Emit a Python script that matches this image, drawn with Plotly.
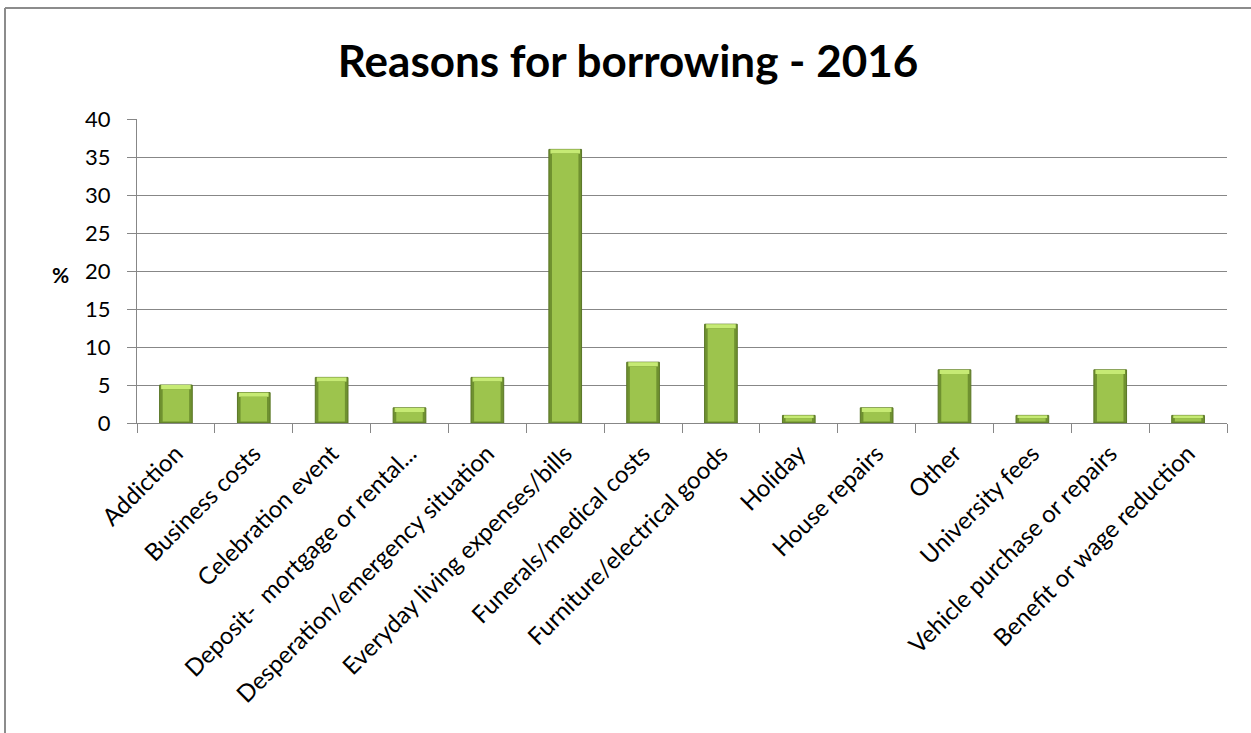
import plotly.graph_objects as go

categories = [
    "Addiction", "Business costs", "Celebration event",
    "Deposit- \u00a0mortgage or rental...", "Desperation/emergency situation",
    "Everyday living expenses/bills", "Funerals/medical costs",
    "Furniture/electrical goods", "Holiday", "House repairs", "Other",
    "University fees", "Vehicle purchase or repairs", "Benefit or wage reduction",
]
values = [5, 4, 6, 2, 6, 36, 8, 13, 1, 2, 7, 1, 7, 1]
y_ticks = [0, 5, 10, 15, 20, 25, 30, 35, 40]

title_text = "Reasons for borrowing - 2016"
y_label = "%"

FONT = "Lato"
GRID = "#878787"

fig = go.Figure()

# outer dark body with outline
fig.add_trace(go.Bar(
    x=categories, y=values, width=0.42,
    marker=dict(color="#6F9130", line=dict(color="#5A7626", width=1)),
    hoverinfo="skip", showlegend=False,
))
# top bevel highlight
cap = [min(0.55, v * 0.35) for v in values]
fig.add_trace(go.Bar(
    x=categories, y=cap, base=[v - c for v, c in zip(values, cap)], width=0.38,
    marker=dict(color="#C6EA74", line=dict(width=0)),
    hoverinfo="skip", showlegend=False,
))
# inner light body
fig.add_trace(go.Bar(
    x=categories, y=[v - c - 0.2 for v, c in zip(values, cap)], base=0.2, width=0.34,
    marker=dict(color="#9DC44D", line=dict(width=0)),
    hoverinfo="skip", showlegend=False,
))

fig.update_layout(
    width=1251, height=733,
    margin=dict(l=137, r=24, t=119, b=310),
    paper_bgcolor="white", plot_bgcolor="white",
    barmode="overlay",
    font=dict(family=FONT, size=22, color="#000000"),
    title=dict(text=title_text, x=0.502, xanchor="center", xref="container",
               y=1 - 62 / 733, yanchor="middle", yref="container",
               font=dict(family=FONT, size=44, color="#000000", weight="bold")),
    xaxis=dict(
        type="category", showline=True, linecolor=GRID, linewidth=1,
        ticks="outside", tickson="boundaries", ticklen=9, tickcolor=GRID,
        tickangle=-45, tickfont=dict(family=FONT, size=24), ticklabelstandoff=6,
        showgrid=False, range=[-0.5, len(categories) - 0.5],
    ),
    yaxis=dict(
        range=[0, 40], tickvals=y_ticks, showgrid=True, gridcolor=GRID, gridwidth=1,
        showline=True, linecolor=GRID, linewidth=1, zeroline=False,
        ticks="outside", ticklen=9, tickcolor=GRID,
        tickfont=dict(family=FONT, size=22), ticklabelstandoff=12,
    ),
    annotations=[dict(
        text="<b>" + y_label + "</b>", xref="paper", yref="y",
        x=(60 - 137) / 1090, y=19.5, showarrow=False,
        font=dict(family=FONT, size=21), xanchor="center", yanchor="middle",
    )],
    shapes=[
        dict(type="line", xref="paper", yref="paper",
             x0=(5 - 137) / 1090, x1=(1260 - 137) / 1090,
             y0=1 + (119 - 8) / 304, y1=1 + (119 - 8) / 304,
             line=dict(color="#8C8C8C", width=2)),
        dict(type="line", xref="paper", yref="paper",
             x0=(5 - 137) / 1090, x1=(5 - 137) / 1090,
             y0=1 + (119 - 8) / 304, y1=(423 - 740) / 304,
             line=dict(color="#8C8C8C", width=2)),
    ],
)

fig.write_html("out.html")
